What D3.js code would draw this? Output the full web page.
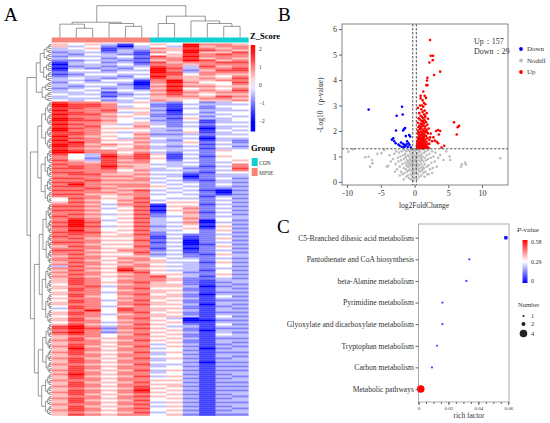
<!DOCTYPE html>
<html>
<head>
<meta charset="utf-8">
<title>Heatmap, volcano and KEGG enrichment</title>
<script src="https://cdn.jsdelivr.net/npm/d3@7"></script>
<style>
  body { margin: 0; background: #fff; }
  svg { font-family: "Liberation Serif", "Times New Roman", serif; }
</style>
</head>
<body>
<div id="fig"></div>
<script>
// ---------- panel A : z-scores, one string per metabolite, digit 0..8 = -2..2 ----------
var heatRows = [
  "545314548665","534203438566","345123657656","334132558765","233231648557","324321457676",
  "233342758666","344231667565","223322568756","134231756677","033342665666","123233763756",
  "032324873667","144233862577","233344873666","124433774655","233324865546","343233765657",
  "332441685566","243330686447","334420575546","323331686655","234231574546","343343685657",
  "334134576566","433223675455","344134566576","333343555665","434234654556",
  "766535324234","877644213333","877634214244","776655313234","866744204333","776635314244",
  "877545213334","766654224243","876543315334","877644224134","766545323133","876535324244",
  "767446423133","876555334034","866444324143","776535335134","776446223233","865545334144",
  "776436433033","866555324132","786446335242","875655434133","876546323242","765456334133",
  "876655433254","886646324244","743757513244","643867414154","642767513244","753756424245",
  "665766433234","766755334246","676865433136","776755342247","666646333236","776655442144",
  "677556331233","666665430233","776556341242","667666432133","776555343232","686666434243",
  "776566543232","667655434223","776567343102","666656434203","775566343212","666456444133",
  "476557433242","465466344233","576457455242","665366144133","776457055242","665346146233",
  "776457055242","665446146133","676357245242","765446235233","676457346243","686346345042",
  "787457336033","686446345142","787357234053","676446345142","686457334253","777546244242",
  "676457232233","766556141242","675446131253","666557240242","776446130233","665556240142",
  "576447231253","666556140242","775466231233","666557341242","675446232153","566555342243",
  "676466433232","665556544243","576465533152","666556443243","375466533242","666575443233",
  "575486533142","666567442243","576456553252","665566743143","576456652232",
  "576466652133","576567542123","476456552132","567366553023","576467442132","476456552133",
  "566366543122","576467452033","475456552142","566466543133","476357452122","576466542133",
  "566467553032","476356442123","376476552132","468476543133","576467452122","576356542133",
  "466466553142","575467430133","576456540022","466366451133","575457542142","786366433133",
  "787267542122","676356452033","786266543132","676457452143","566466542133","575566453122",
  "676457542133","566566452132","576466343123","675557452132","586466343023","576566442133",
  "675457353122","576566342133","566466443132","675557352123","576466343133","576566442022",
  "665457333133","576566342122","576466443133","675557352122","576466343133","686566442123",
  "575457353132","576566442123","666466553133","575557442122","576466553133","676567452122",
  "565457543133","576568452122","676467543133","575556452123","566467543132","676566452123",
  "575457443133","576566352122","666467443133","575556352123","576467443132","676566452123",
  "565457343133","576566452122"
];
var colGroups = ["MPSE","MPSE","MPSE","MPSE","MPSE","MPSE","CON","CON","CON","CON","CON","CON"];
var groupNames = ["CON", "MPSE"];
var groupColors = ["#10CFD2", "#F8857C"];
// column tree: [height, left, right], numbers are column indices
var colTree = [10, [4.8, [4.2, 0, [2.9, 1, 2]], [4.4, 3, [3.5, 4, 5]]],
                   [6.7, [4.4, 6, 7], [5.2, 8, [4.4, 9, [3.5, 10, 11]]]]];
// row tree: [height, left, right], numeric pair = block of rows (1-based, inclusive)
var rowTree = [10,
  [6.2, [4.6, [3.0, 1, 9], [3.2, 10, 19]], [3.8, 20, 29]],
  [8.6, [5.6, [4.0, 30, 53], [4.2, 54, 80]],
        [7.0, [5.0, [3.5, 81, 110], [3.8, 111, 140]], [5.4, [3.6, 141, 165], [4.0, 166, 186]]]]];
var zTicks = [2, 1, 0, -1, -2];

// ---------- panel B : volcano [log2FC, -log10 p] ----------
var volDown = [[-6.8,2.84],[-1.85,2.95],[-1.75,2.65],[-2.65,2.6],[-1.4,2.12],[-1.55,2.08],[-1.7,2.02],
  [-2.75,2.02],[-0.8,1.84],[-0.65,1.78],[-1.3,1.8],[-3.15,1.71],[-3.35,1.66],[-3.0,1.6],[-2.8,1.52],
  [-2.0,1.55],[-1.7,1.5],[-1.5,1.45],[-1.2,1.48],[-0.9,1.52],[-2.2,1.42],[-1.9,1.38],[-1.6,1.36],
  [-1.35,1.4],[-1.0,1.38],[-0.75,1.45],[-2.4,1.47],[-1.1,1.6],[-0.55,1.35]];
var volUp = [[2.3,5.57],[2.4,4.95],[2.75,4.95],[2.2,4.69],[2.7,4.78],[3.8,4.33],[2.9,4.2],[1.9,4.09],
  [1.85,3.98],[1.75,3.8],[1.9,3.8],[0.9,3.38],[1.3,3.55],[0.9,3.28],[1.5,3.38],[1.2,3.2],[1.4,3.1],
  [1.6,3.05],[0.8,3.0],[1.1,3.0],[1.3,2.95],[1.7,3.3],
  [5.85,2.34],[6.6,2.2],[6.25,1.86],[6.4,2.15],[3.5,2.04],[3.8,2.0],[3.6,1.86],[3.0,1.62],[3.3,1.58],
  [3.5,1.52],[4.4,1.42],[2.6,1.6],[2.8,1.75],[2.4,1.9],[3.2,2.0],[2.2,1.5],[4.0,1.35],
  [0.5,2.9],[1.0,2.85],[1.5,2.8],[1.2,2.75],[0.7,2.7],[1.8,2.7],[1.4,2.65],[0.9,2.6],[1.1,2.55],
  [1.6,2.55],[0.6,2.5],[1.3,2.5],[2.0,2.48],[0.8,2.45],[1.5,2.42],[1.0,2.4],[1.2,2.35],[1.7,2.35],
  [0.5,2.32],[1.4,2.3],[0.9,2.28],[1.1,2.25],[1.9,2.25],[0.7,2.2],[1.3,2.2],[1.6,2.18],[0.6,2.15],
  [1.0,2.12],[1.5,2.1],[2.1,2.1],[0.8,2.08],[1.2,2.05],[1.8,2.05],[0.5,2.02],[1.4,2.0],[0.9,1.98],
  [1.1,1.95],[1.6,1.95],[0.7,1.92],[1.3,1.9],[2.0,1.9],[0.55,1.88],[1.0,1.86],[1.5,1.85],[0.8,1.82],
  [1.2,1.8],[1.7,1.8],[0.6,1.78],[1.4,1.76],[0.9,1.74],[1.1,1.72],[1.9,1.72],[0.5,1.7],[1.3,1.7],
  [0.75,1.68],[1.6,1.66],[1.0,1.65],[2.2,1.65],[0.6,1.62],[1.2,1.62],[1.45,1.6],[0.85,1.58],[1.8,1.58],
  [0.5,1.56],[1.1,1.56],[1.35,1.54],[0.7,1.52],[1.6,1.52],[0.95,1.5],[2.0,1.5],[0.55,1.48],[1.25,1.48],
  [0.8,1.46],[1.5,1.46],[1.05,1.44],[1.75,1.44],[0.45,1.42],[0.65,1.42],[1.3,1.42],[0.9,1.4],[1.15,1.4],
  [1.6,1.4],[0.5,1.38],[0.75,1.38],[1.0,1.38],[1.4,1.38],[1.9,1.38],[0.6,1.36],[0.85,1.36],[1.2,1.36],
  [1.55,1.36],[0.4,1.34],[0.7,1.34],[0.95,1.34],[1.1,1.34],[1.35,1.34],[1.7,1.34],[0.5,1.32],[0.8,1.32],
  [1.05,1.32],[1.25,1.32],[1.45,1.32],[2.1,1.33],[0.65,1.45],[1.0,1.55],[1.3,1.65],[0.7,1.75],[1.15,1.85],
  [0.45,1.6],[0.4,1.5],[1.85,1.95],[2.3,1.75],[0.35,1.4],[1.55,2.6],[0.95,2.15],[1.25,2.4],[0.6,1.95],[1.7,2.0]];
var volNodiff = [[-9.8,1.19],[-9.1,1.28],[-7.3,0.97],[-6.8,0.99],[-6.3,0.86],[-6.25,0.73],[-6.6,0.6],
  [-4.9,1.13],[-4.1,0.6],[-3.9,0.63],[7.5,0.76],[7.6,0.69],[7.0,0.69],[6.9,0.6],[12.7,0.93],[5.3,0.86],
  [5.2,1.0],[4.3,0.86],[3.8,1.06],[-4.5,1.25],[4.7,1.2],[-5.5,1.1],
  [-3.2,0.9],[-3.0,1.1],[-2.8,0.7],[-2.7,1.2],[-2.6,0.5],[-2.5,0.95],[-2.4,0.8],[-2.3,1.15],[-2.2,0.6],
  [-2.1,1.0],[-2.0,0.4],[-2.0,0.85],[-1.9,1.2],[-1.8,0.7],[-1.8,0.3],[-1.7,1.05],[-1.6,0.55],[-1.6,0.9],
  [-1.5,1.25],[-1.5,0.35],[-1.4,0.75],[-1.4,1.1],[-1.3,0.5],[-1.3,0.95],[-1.2,0.2],[-1.2,0.65],[-1.2,1.2],
  [-1.1,0.85],[-1.1,0.4],[-1.0,1.05],[-1.0,0.6],[-1.0,0.25],[-0.9,0.8],[-0.9,1.25],[-0.9,0.45],[-0.8,0.15],
  [-0.8,0.7],[-0.8,1.0],[-0.7,0.5],[-0.7,0.9],[-0.7,1.2],[-0.6,0.3],[-0.6,0.65],[-0.6,1.1],[-0.5,0.1],
  [-0.5,0.45],[-0.5,0.85],[-0.5,1.25],[-0.4,0.6],[-0.4,1.0],[-0.4,0.25],[-0.3,0.75],[-0.3,1.15],[-0.3,0.4],
  [-0.2,0.05],[-0.2,0.55],[-0.2,0.9],[-0.2,1.28],[-0.1,0.3],[-0.1,0.7],[-0.1,1.05],[0.0,0.15],[0.0,0.5],
  [0.0,0.85],[0.0,1.2],[0.1,0.35],[0.1,0.65],[0.1,1.0],[0.2,0.2],[0.2,0.55],[0.2,0.9],[0.2,1.25],[0.3,0.4],
  [0.3,0.75],[0.3,1.1],[0.4,0.1],[0.4,0.6],[0.4,0.95],[0.5,0.3],[0.5,0.7],[0.5,1.15],[0.6,0.5],[0.6,0.85],
  [0.6,1.25],[0.7,0.2],[0.7,0.65],[0.7,1.0],[0.8,0.4],[0.8,0.8],[0.8,1.2],[0.9,0.55],[0.9,0.95],[1.0,0.25],
  [1.0,0.7],[1.0,1.1],[1.1,0.45],[1.1,0.85],[1.2,0.6],[1.2,1.0],[1.2,1.28],[1.3,0.35],[1.3,0.8],[1.4,0.55],
  [1.4,1.15],[1.5,0.7],[1.5,0.95],[1.6,0.4],[1.6,1.2],[1.7,0.85],[1.8,0.6],[1.8,1.05],[1.9,0.3],[2.0,0.9],
  [2.0,1.25],[2.1,0.65],[2.2,1.1],[2.3,0.5],[2.4,0.95],[2.5,0.75],[2.6,1.2],[2.7,0.55],[2.8,1.0],[3.0,0.8],
  [3.1,1.15],[3.3,0.6],[3.5,0.95],[-3.5,0.8],[-3.7,1.05],[-2.9,0.4],[-2.2,0.25],[-1.6,0.1],[1.5,0.2],
  [2.1,0.3],[2.6,0.35],[-0.35,0.95],[0.35,0.95],[-0.65,0.8],[0.65,0.45],[-0.15,0.4],[0.15,0.8],[0.85,1.05],
  [-0.85,0.6],[1.05,0.9],[-1.05,0.75],[0.45,1.05],[-0.45,0.7],[1.25,0.5],[-1.25,1.0]];
var volXTicks = [-10, -5, 0, 5, 10];
var volYTicks = [0, 1, 2, 3, 4, 5, 6];
var fcCut = 0.263, pCut = 1.301;
var volLegend = ["Down", "Nodiff", "Up"];
var volColors = ["#0000FF", "#BEBEBE", "#FF0000"];

// ---------- panel C : KEGG enrichment ----------
var pathways = ["C5-Branched dibasic acid metabolism", "Pantothenate and CoA biosynthesis",
  "beta-Alanine metabolism", "Pyrimidine metabolism", "Glyoxylate and dicarboxylate metabolism",
  "Tryptophan metabolism", "Carbon metabolism", "Metabolic pathways"];
var richFactor = [0.0584, 0.034, 0.032, 0.016, 0.016, 0.0124, 0.009, 0.0015];
var pathPval = [0.03, 0.07, 0.07, 0.08, 0.08, 0.09, 0.09, 0.58];
var pathCount = [2, 1, 1, 1, 1, 1, 1, 4];
var richTicks = [0, 0.02, 0.04, 0.06];
var pvalTicks = [0.58, 0.29, 0];
var countTicks = [1, 2, 4];

var svg = d3.select("#fig").append("svg").attr("width", 550).attr("height", 423);

// panel letters
svg.selectAll("text.panel").data([["A", 4, 21], ["B", 278, 21], ["C", 277, 233]]).enter()
  .append("text").attr("class", "panel")
  .attr("x", function(d) { return d[1]; }).attr("y", function(d) { return d[2]; })
  .style("font-size", "19px").text(function(d) { return d[0]; });

// ================= A : heatmap =================
var zColor = d3.scaleLinear().domain([-2, 0, 2]).range(["#0000ff", "#ffffff", "#ff0000"]).clamp(true);
var hx = d3.scaleBand().domain(d3.range(12)).range([51.7, 248.3]);
var hy = d3.scaleBand().domain(d3.range(heatRows.length)).range([43.5, 415.5]);

var cells = [];
heatRows.forEach(function(r, i) {
  r.split("").forEach(function(c, j) { cells.push({ r: i, c: j, z: (+c - 4) / 2 }); });
});
var gA = svg.append("g");
gA.selectAll("rect.cell").data(cells).enter().append("rect")
  .attr("x", function(d) { return hx(d.c); })
  .attr("y", function(d) { return hy(d.r); })
  .attr("width", hx.bandwidth() + 0.3)
  .attr("height", hy.bandwidth() + 0.3)
  .attr("fill", function(d) { return zColor(d.z); });

// group annotation bar
var gColor = d3.scaleOrdinal().domain(groupNames).range(groupColors);
gA.selectAll("rect.ann").data(colGroups).enter().append("rect")
  .attr("x", function(d, i) { return hx(i); }).attr("y", 37.5)
  .attr("width", hx.bandwidth() + 0.3).attr("height", 5)
  .attr("fill", function(d) { return gColor(d); });

// dendrograms
function buildTree(node, isRow) {
  if (typeof node === "number") return { leaf: node };
  if (isRow && typeof node[1] === "number") return splitBlock(node[0], node[1] - 1, node[2] - 1);
  return { h: node[0], kids: [buildTree(node[1], isRow), buildTree(node[2], isRow)] };
}
function splitBlock(h, a, b) {
  if (a === b) return { leaf: a };
  var m = Math.floor((a + b) / 2);
  return { h: h, kids: [splitBlock(h * 0.62, a, m), splitBlock(h * 0.62, m + 1, b)] };
}
// draws elbow lines; pos = leaf position, hs = height scale, vertical = tree grows upward
function drawTree(g, node, pos, hs, vertical) {
  if (node.leaf !== undefined) return { p: pos(node.leaf), h: 0 };
  var a = drawTree(g, node.kids[0], pos, hs, vertical);
  var b = drawTree(g, node.kids[1], pos, hs, vertical);
  var d;
  if (vertical) {
    d = "M" + a.p + "," + hs(a.h) + "V" + hs(node.h) + "H" + b.p + "V" + hs(b.h);
  } else {
    d = "M" + hs(a.h) + "," + a.p + "H" + hs(node.h) + "V" + b.p + "H" + hs(b.h);
  }
  g.append("path").attr("d", d);
  return { p: (a.p + b.p) / 2, h: node.h };
}
var gDend = gA.append("g").attr("fill", "none").attr("stroke", "#555").attr("stroke-width", 0.6);
drawTree(gDend, buildTree(colTree, false),
  function(i) { return hx(i) + hx.bandwidth() / 2; },
  d3.scaleLinear().domain([0, 10]).range([37.5, 5.7]), true);
drawTree(gDend, buildTree(rowTree, true),
  function(i) { return hy(i) + hy.bandwidth() / 2; },
  d3.scaleLinear().domain([0, 10]).range([51.5, 27]), false);

// Z_Score legend
var zY = d3.scaleLinear().domain([2, -2]).range([49.3, 120.7]);
var defs = svg.append("defs");
var zg = defs.append("linearGradient").attr("id", "zgrad").attr("x1", 0).attr("y1", 0).attr("x2", 0).attr("y2", 1);
var zTop = zY.invert(45), zBot = zY.invert(131.5);
d3.range(0, 1.0001, 0.1).forEach(function(t) {
  zg.append("stop").attr("offset", t).attr("stop-color", zColor(zTop + (zBot - zTop) * t));
});
gA.append("text").attr("x", 250).attr("y", 39).style("font-size", "8.5px").style("font-weight", "bold").text("Z_Score");
gA.append("rect").attr("x", 250.7).attr("y", 45).attr("width", 4.5).attr("height", 86.5).attr("fill", "url(#zgrad)");
gA.selectAll("text.zt").data(zTicks).enter().append("text")
  .attr("x", 259).attr("y", function(d) { return zY(d) + 2; })
  .style("font-size", "5.5px").attr("fill", "#333")
  .text(function(d) { return d < 0 ? "\u2212" + Math.abs(d) : d; });

gA.append("text").attr("x", 251).attr("y", 150.5).style("font-size", "8.5px").style("font-weight", "bold").text("Group");
gA.selectAll("rect.gl").data(groupNames).enter().append("rect")
  .attr("x", 251.7).attr("y", function(d, i) { return 158 + i * 10; })
  .attr("width", 6).attr("height", 8).attr("fill", function(d) { return gColor(d); });
gA.selectAll("text.gl").data(groupNames).enter().append("text")
  .attr("x", 259).attr("y", function(d, i) { return 164.5 + i * 10; })
  .style("font-size", "5.5px").attr("fill", "#333").text(function(d) { return d; });

// ================= B : volcano =================
var vx = d3.scaleLinear().domain([-10.75, 13.85]).range([342, 508]);
var vy = d3.scaleLinear().domain([-0.12, 6.2]).range([185, 24]);
var gB = svg.append("g");

var volPts = [];
volNodiff.forEach(function(d) { volPts.push({ v: d, k: 1 }); });
volDown.forEach(function(d) { volPts.push({ v: d, k: 0 }); });
volUp.forEach(function(d) { volPts.push({ v: d, k: 2 }); });
gB.selectAll("circle.pt").data(volPts).enter().append("circle")
  .attr("cx", function(d) { return vx(d.v[0]); })
  .attr("cy", function(d) { return vy(d.v[1]); })
  .attr("r", 1.3)
  .attr("fill", function(d) { return volColors[d.k]; });

var dash = gB.append("g").attr("stroke", "#444").attr("stroke-width", 0.9).attr("stroke-dasharray", "2.5,1.5");
[-fcCut, fcCut].forEach(function(c) {
  dash.append("line").attr("x1", vx(c)).attr("x2", vx(c)).attr("y1", 24).attr("y2", 185);
});
dash.append("line").attr("x1", 342).attr("x2", 508).attr("y1", vy(pCut)).attr("y2", vy(pCut));

gB.append("rect").attr("x", 342).attr("y", 24).attr("width", 166).attr("height", 161)
  .attr("fill", "none").attr("stroke", "#666").attr("stroke-width", 0.8);

var plain = function(d) { return String(d); };
var axL = gB.append("g").attr("transform", "translate(342,0)")
  .call(d3.axisLeft(vy).tickValues(volYTicks).tickFormat(plain).tickSize(3).tickPadding(2));
var axB = gB.append("g").attr("transform", "translate(0,185)")
  .call(d3.axisBottom(vx).tickValues(volXTicks).tickFormat(plain).tickSize(3).tickPadding(2));
[axL, axB].forEach(function(a) {
  a.select(".domain").remove();
  a.selectAll("line").attr("stroke", "#666");
  a.selectAll("text").style("font-family", "Liberation Serif").style("font-size", "8px").attr("fill", "#333");
});

gB.append("text").attr("transform", "translate(323,105) rotate(-90)").attr("text-anchor", "middle")
  .style("font-size", "7.5px").attr("fill", "#333").text("-Log10\uFF08p-value)");
gB.append("text").attr("x", 424).attr("y", 208).attr("text-anchor", "middle")
  .style("font-size", "7.5px").attr("fill", "#333").text("log2FoldChange");
gB.append("text").attr("x", 474).attr("y", 44).style("font-size", "8px").attr("fill", "#333").text("Up\uFF1A157");
gB.append("text").attr("x", 474).attr("y", 54).style("font-size", "8px").attr("fill", "#333").text("Down\uFF1A29");

var lg = gB.selectAll("g.vl").data(volLegend).enter().append("g")
  .attr("transform", function(d, i) { return "translate(521," + (49 + i * 11.5) + ")"; });
lg.append("circle").attr("r", 1.9).attr("fill", function(d, i) { return volColors[i]; });
lg.append("text").attr("x", 6).attr("y", 2.3).style("font-size", "7px").attr("fill", "#333").text(function(d) { return d; });

// ================= C : enrichment bubbles =================
var rx = d3.scaleLinear().domain([0, 0.0605]).range([418.5, 509]);
var ry = d3.scalePoint().domain(pathways).range([237.7, 389]);
var pColor = d3.scaleLinear().domain([0, 0.29, 0.58]).range(["#0000ff", "#ffffff", "#ff0000"]);
var rSize = d3.scaleLinear().domain([1, 4]).range([1.1, 3.8]);
var gC = svg.append("g");

gC.append("rect").attr("x", 418.5).attr("y", 224).attr("width", 90.5).attr("height", 178)
  .attr("fill", "none").attr("stroke", "#999").attr("stroke-width", 0.8);

gC.selectAll("circle.pw").data(pathways).enter().append("circle")
  .attr("cx", function(d, i) { return rx(richFactor[i]); })
  .attr("cy", function(d) { return ry(d); })
  .attr("r", function(d, i) { return rSize(pathCount[i]); })
  .attr("fill", function(d, i) { return pColor(pathPval[i]); });

var axCy = gC.append("g").attr("transform", "translate(418.5,0)")
  .call(d3.axisLeft(ry).tickSize(3).tickPadding(1.5));
axCy.select(".domain").remove();
axCy.selectAll("line").attr("stroke", "#666");
axCy.selectAll("text").style("font-family", "Liberation Serif").style("font-size", "7.6px").attr("fill", "#333");

var axCx = gC.append("g").attr("transform", "translate(0,402)")
  .call(d3.axisBottom(rx).tickValues(richTicks).tickSize(3).tickPadding(1.5)
    .tickFormat(function(d) { return d === 0 ? "0" : d3.format(".2f")(d); }));
axCx.select(".domain").remove();
axCx.selectAll("line").attr("stroke", "#666");
axCx.selectAll("text").style("font-family", "Liberation Serif").style("font-size", "5px").attr("fill", "#333");
gC.append("g").attr("transform", "translate(0,402)")
  .call(d3.axisBottom(rx).ticks(12).tickSize(2).tickFormat(""))
  .call(function(a) { a.select(".domain").remove(); a.selectAll("line").attr("stroke", "#666"); });

gC.append("text").attr("x", 469).attr("y", 418).attr("text-anchor", "middle")
  .style("font-size", "7.5px").attr("fill", "#333").text("rich factor");

// p-value legend
var pt = gC.append("text").attr("x", 517).attr("y", 232).style("font-size", "7px").attr("fill", "#333");
pt.append("tspan").style("font-style", "italic").text("P");
pt.append("tspan").text("-value");
var pg = defs.append("linearGradient").attr("id", "pgrad").attr("x1", 0).attr("y1", 0).attr("x2", 0).attr("y2", 1);
pvalTicks.forEach(function(v, i) {
  pg.append("stop").attr("offset", i / 2).attr("stop-color", pColor(v));
});
var pY = d3.scaleLinear().domain([0.58, 0]).range([242, 281]);
gC.append("rect").attr("x", 522.5).attr("y", 240).attr("width", 5).attr("height", 43).attr("fill", "url(#pgrad)");
gC.selectAll("text.pv").data(pvalTicks).enter().append("text")
  .attr("x", 531).attr("y", function(d) { return pY(d) + 2; })
  .style("font-size", "6px").attr("fill", "#333").text(function(d) { return d; });

// count legend
gC.append("text").attr("x", 518).attr("y", 307).style("font-size", "6.5px").attr("fill", "#333").text("Number");
var cy = [316, 324, 333.5];
gC.selectAll("circle.nl").data(countTicks).enter().append("circle")
  .attr("cx", 523.5).attr("cy", function(d, i) { return cy[i]; })
  .attr("r", function(d) { return rSize(d); }).attr("fill", "#222");
gC.selectAll("text.nl").data(countTicks).enter().append("text")
  .attr("x", 531).attr("y", function(d, i) { return cy[i] + 2; })
  .style("font-size", "6.5px").attr("fill", "#333").text(function(d) { return d; });
</script>
</body>
</html>
